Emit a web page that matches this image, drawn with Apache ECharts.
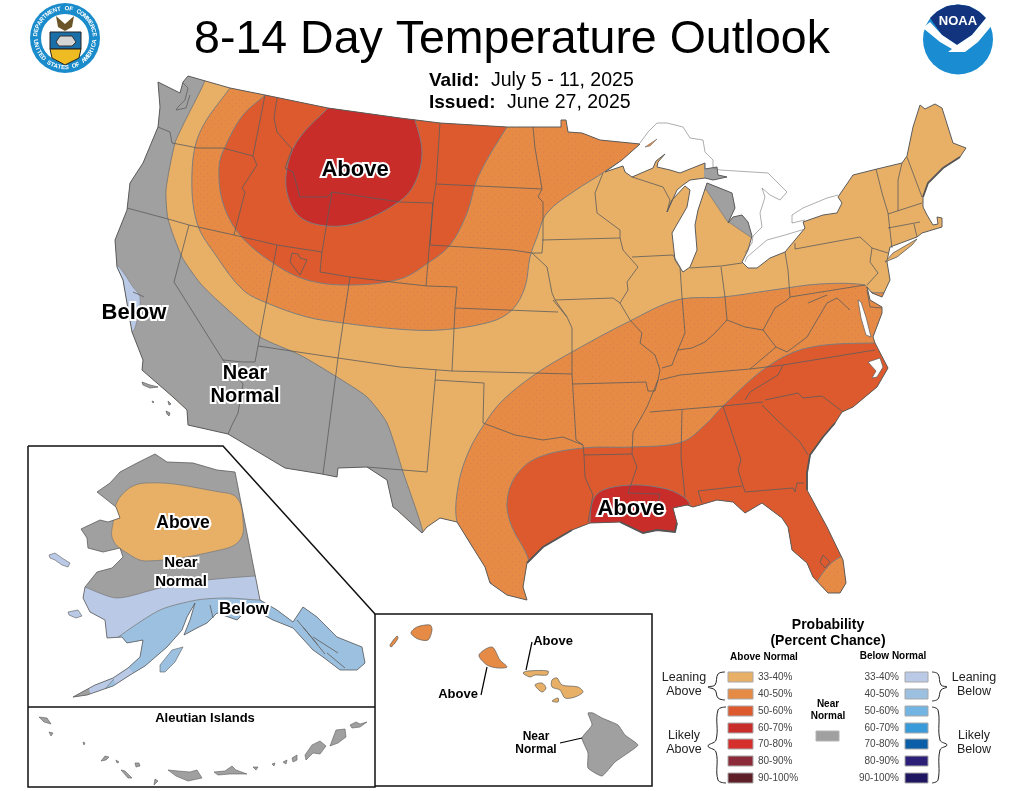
<!DOCTYPE html>
<html>
<head>
<meta charset="utf-8">
<script src="https://cdn.jsdelivr.net/npm/echarts@6/dist/echarts.min.js"></script>
<style>html,body{margin:0;background:#fff}#map{width:1024px;height:791px}</style>
</head>
<body>
<div id="map"></div>
<script>
var conusOutline = [[188,76],[230,88],[265,95],[328,108],[400,118],[440,123],[507,127],[561,127],[561,120],[566,120],[568,132],[582,133],[600,140],[620,142],[640,144],[622,160],[605,172],[623,166],[625,172],[632,177],[653,168],[656,161],[665,154],[658,162],[657,167],[670,170],[680,173],[700,165],[705,163],[705,169],[717,167],[718,175],[727,177],[713,180],[705,178],[690,180],[683,185],[677,190],[667,212],[672,200],[685,186],[690,190],[687,207],[672,233],[675,260],[683,272],[690,267],[697,250],[695,225],[698,210],[703,195],[707,183],[732,193],[735,208],[728,223],[733,217],[742,215],[748,222],[752,236],[748,250],[742,262],[748,268],[757,268],[770,258],[785,252],[805,228],[803,222],[823,215],[837,213],[842,203],[838,197],[853,175],[877,169],[902,163],[907,156],[913,127],[920,105],[925,109],[935,104],[942,108],[953,143],[966,148],[960,157],[943,168],[928,183],[923,197],[923,207],[927,215],[933,225],[938,224],[937,217],[942,218],[942,227],[922,233],[917,237],[890,247],[888,256],[887,262],[890,280],[882,297],[872,293],[867,287],[870,300],[882,307],[882,313],[873,337],[875,343],[888,368],[877,387],[853,407],[842,412],[835,423],[823,437],[810,455],[807,473],[807,490],[827,527],[843,560],[846,583],[840,593],[828,593],[813,577],[807,563],[792,550],[788,527],[782,518],[762,503],[745,513],[733,502],[717,500],[693,507],[687,505],[673,508],[677,523],[675,532],[657,530],[643,533],[620,522],[590,523],[572,530],[543,547],[527,563],[523,587],[527,600],[507,595],[490,583],[485,567],[470,543],[457,522],[440,518],[427,527],[422,533],[397,510],[393,507],[387,480],[367,467],[338,468],[337,477],[322,474],[285,468],[228,434],[188,425],[187,410],[173,397],[142,370],[143,360],[132,332],[123,280],[117,267],[115,240],[127,210],[130,183],[143,163],[158,127],[160,107],[158,82],[180,93],[183,82]];
var longIsland = [[885,262],[893,253],[917,239],[912,245],[897,257]];
var chesapeake = [[858,300],[861,302],[866,317],[871,337],[866,335],[861,318]];
var pamlico = [[868,362],[880,358],[883,367],[877,377],[872,378],[876,371]];
var channelIslands = [
  [[142,382],[150,385],[158,387],[150,388],[143,385]],
  [[152,401],[154,402],[153,403]],
  [[168,401],[171,404],[169,405]],
  [[166,411],[170,413],[169,416],[167,414]]
];
var grayWest = [[100,60],[205,60],[205,80],[187,117],[175,143],[166,190],[168,219],[182,257],[200,283],[217,300],[260,337],[300,355],[337,377],[367,397],[387,423],[403,472],[423,532],[423,560],[100,560]];
var blueCoast = [[105,262],[118,266],[133,287],[140,297],[138,315],[132,332],[110,330]];
var grayUpperMI = [[704,160],[735,160],[735,190],[704,190]];
var grayLowerMI = [[705,188],[727,221],[752,238],[765,232],[765,180],[705,180]];
var zone40North = [[255,55],[230,88],[200,132],[192,173],[197,223],[217,257],[243,290],[267,303],[307,317],[343,323],[397,329],[440,330],[490,322],[512,310],[525,287],[530,257],[537,237],[547,213],[573,192],[607,170],[645,140],[645,100]];
var zone50North = [[288,70],[265,95],[243,115],[225,147],[219,167],[223,203],[240,235],[273,263],[307,280],[350,285],[400,279],[428,263],[450,245],[467,213],[478,177],[507,127],[530,95]];
var zone60North = [[350,85],[328,108],[300,137],[288,163],[287,193],[300,217],[327,226],[360,222],[400,201],[415,183],[422,153],[415,120],[405,95]];
var zone40South = [[940,300],[870,292],[865,285],[820,284],[773,290],[723,297],[677,300],[628,322],[572,352],[537,373],[503,400],[485,423],[468,453],[458,487],[457,522],[470,543],[488,580],[512,600],[530,625],[940,625]];
var zone50South = [[940,345],[873,343],[807,348],[767,367],[723,406],[707,423],[682,442],[633,447],[583,448],[537,458],[515,477],[507,503],[512,527],[528,558],[540,615],[805,615],[818,580],[843,556],[940,540]];
var zone60South = [[590,550],[590,522],[593,500],[603,490],[630,485],[657,487],[677,493],[690,505],[695,560]];
var stateLines = [
  [[158,127],[170,132],[172,143],[188,146],[197,148],[223,148],[253,156]],
  [[265,95],[253,156],[257,165],[242,188],[245,192],[234,235]],
  [[127,208],[168,219],[189,225],[234,235],[277,245],[322,252],[320,272],[350,277],[400,283],[427,286],[457,287],[455,308],[452,371]],
  [[277,98],[274,118],[277,132],[292,149],[285,168],[293,172],[300,197],[327,197],[332,192],[322,252]],
  [[332,192],[400,202],[433,203],[426,286]],
  [[189,225],[174,282],[223,360],[243,384],[238,413],[232,425],[228,434]],
  [[223,360],[243,362],[255,362],[258,346],[277,245]],
  [[258,346],[338,358],[400,367],[452,371],[572,374]],
  [[350,277],[338,358],[323,474]],
  [[436,370],[427,472],[367,467]],
  [[435,380],[484,383],[483,423],[515,435],[543,440],[563,437],[583,445],[584,455],[585,477],[593,495],[588,522]],
  [[572,328],[572,374],[576,440],[583,445]],
  [[455,308],[558,312]],
  [[553,300],[567,317],[572,328]],
  [[573,384],[646,382],[648,391],[655,391],[658,380]],
  [[584,455],[632,454]],
  [[620,303],[630,320],[642,333],[640,343],[655,355],[660,370],[658,380],[647,407],[633,432],[632,454],[637,467],[628,493],[660,494],[658,503]],
  [[650,412],[723,406],[763,402]],
  [[660,380],[680,375],[750,369],[783,365],[875,350]],
  [[783,365],[778,375],[750,392],[745,400]],
  [[765,400],[798,393],[803,398],[822,396],[843,412]],
  [[762,405],[777,420],[800,442],[808,455]],
  [[682,410],[681,457],[685,497]],
  [[723,406],[741,460],[738,470],[745,492],[793,488],[795,492],[797,483],[804,483]],
  [[698,491],[742,486]],[[698,491],[702,503]],
  [[662,368],[672,365],[677,352],[685,333],[682,297],[680,267],[673,255]],
  [[678,350],[692,348],[705,342],[715,333],[727,320],[745,327],[763,330],[776,347],[750,369]],
  [[776,347],[787,352],[807,337],[817,320],[827,303],[837,298],[850,310]],
  [[763,330],[775,308],[787,300],[790,297],[788,270],[785,252]],
  [[721,267],[725,297],[727,320]],
  [[690,268],[721,266],[742,263]],
  [[790,297],[865,285]],
  [[808,303],[827,295]],
  [[795,243],[795,249],[860,237],[872,248],[888,253]],
  [[872,248],[870,262],[878,273],[867,285]],
  [[867,290],[870,307],[882,308]],
  [[876,169],[882,193],[888,213],[892,248]],
  [[902,163],[898,180],[898,211]],
  [[888,214],[922,203]],
  [[888,228],[920,222]],
  [[914,224],[917,237]],
  [[907,157],[922,197]],
  [[533,127],[535,148],[540,177],[542,189],[538,197],[543,202],[543,240],[542,253],[532,253],[512,250],[430,245]],
  [[440,123],[436,184],[433,203],[430,245]],
  [[436,184],[542,189]],
  [[532,253],[547,267],[552,293],[555,300],[567,317]],
  [[542,240],[620,238],[623,250],[638,267],[627,282],[628,290],[620,303],[613,298],[555,300]],
  [[603,173],[595,193],[597,213],[620,230],[620,238]],
  [[632,257],[673,255]],
  [[632,177],[663,187],[670,200],[667,212]],
  [[292,253],[290,262],[300,275],[307,260],[300,258],[298,254],[292,253]],
  [[823,555],[820,562],[825,568],[830,562],[823,555]]
];
var canadaLines = [
  [[640,143],[648,132],[657,123],[667,123],[683,127],[690,138],[703,140],[705,152],[713,160],[713,168],[720,170],[768,173],[787,192],[780,200],[770,195],[762,188],[765,197],[760,213],[762,227],[753,236],[752,243],[745,253]],
  [[745,262],[747,257],[767,240],[785,235],[805,229]],
  [[805,220],[792,223],[792,215],[803,208],[827,198],[838,195]]
];
// rough stretches of coast that read as heavy dark lines
var heavyCoast = [
  [[960,157],[943,168],[928,183],[923,197]],
  [[835,423],[823,437],[810,455],[807,473],[807,490]],
  [[620,522],[643,533],[657,530],[675,532],[677,523]],
  [[572,530],[543,547],[527,563]]
];
var fineCoast = [
  [[183,83],[188,88],[185,100],[178,107],[176,110],[186,108],[190,95]],
  [[133,292],[140,295],[144,297]],
  [[297,620],[318,645]],[[303,627],[325,654]],[[313,637],[338,653]],[[327,653],[345,668]],[[210,605],[213,618]]
];
var isleRoyale = [[645,147],[657,139],[650,146]];
var akOutline = [[235,472],[217,470],[193,463],[167,462],[155,454],[137,463],[120,472],[110,483],[97,492],[116,507],[120,518],[108,522],[100,520],[81,529],[87,538],[88,548],[103,552],[120,548],[123,557],[112,568],[97,572],[85,587],[83,598],[90,612],[105,620],[107,638],[122,637],[127,643],[143,640],[140,657],[128,668],[113,678],[95,685],[73,697],[87,695],[113,686],[130,675],[145,666],[167,647],[182,630],[187,617],[195,603],[190,620],[184,635],[197,628],[207,623],[217,613],[237,620],[247,610],[260,613],[273,620],[293,628],[313,650],[323,657],[340,670],[357,670],[365,663],[362,647],[337,637],[317,617],[303,607],[293,622],[277,610],[260,600]];
var akAbove = [[145,483],[220,492],[237,498],[243,520],[240,540],[220,550],[147,561],[127,553],[113,540],[113,523],[120,497]];
var akBelow33 = [[70,580],[85,587],[117,598],[160,588],[207,580],[255,576],[280,575],[380,700],[70,700]];
var akBelow40 = [[105,650],[117,638],[160,610],[197,600],[227,598],[260,600],[380,600],[380,700],[100,700],[113,680],[128,668]];
var akLightTip = [[113,677],[128,667],[134,674],[116,686]];
var akGrayTip = [[60,690],[88,685],[92,700],[60,705]];
var akIslands = [
  [[49,555],[55,553],[62,558],[70,563],[68,567],[62,565],[55,560],[50,558]],
  [[68,612],[78,610],[82,616],[76,618],[69,615]],
  [[160,665],[172,650],[183,647],[175,662],[165,672],[160,672]]
];
var aleutians = [
  [[39,717],[47,718],[51,724],[44,722]],[[49,732],[53,733],[51,736]],[[83,742],[85,743],[84,745]],
  [[101,761],[105,756],[109,757],[106,760]],[[116,760],[119,762],[117,763]],[[121,770],[125,771],[132,778],[128,778]],
  [[135,763],[139,763],[140,766],[136,767]],[[168,770],[178,771],[190,772],[197,770],[202,778],[188,781],[176,776]],
  [[214,772],[225,771],[232,766],[236,770],[247,774],[230,774],[218,775]],[[253,767],[258,767],[256,770]],
  [[272,764],[275,763],[274,766]],[[283,762],[287,760],[286,764]],[[292,758],[297,755],[297,760],[293,762]],
  [[305,755],[312,745],[320,741],[326,746],[320,754],[313,753],[306,760]],[[330,746],[336,730],[345,729],[346,737],[338,743]],
  [[350,725],[356,722],[360,724],[367,722],[360,727],[352,728]],[[155,779],[158,781],[154,785]]
];
var hiNiihau = [[390,645],[397,636],[398,638],[395,643],[391,647]];
var hiKauai = [[411,633],[417,627],[430,625],[432,630],[428,640],[418,639]];
var hiOahu = [[479,655],[492,647],[500,660],[507,667],[498,668],[487,665]];
var hiMolokai = [[523,673],[528,671],[548,671],[547,675],[535,675],[530,677]];
var hiLanai = [[535,685],[542,683],[546,688],[542,692]];
var hiMaui = [[552,680],[557,678],[562,685],[578,687],[583,692],[575,697],[565,698],[560,690],[552,687]];
var hiKahoolawe = [[552,701],[558,698],[558,702]];
var hiBig = [[588,713],[593,713],[602,718],[618,725],[625,735],[638,745],[628,753],[615,762],[602,776],[588,768],[588,753],[582,738],[592,725]];
var leaders = [[[487,667],[481,695]],[[532,642],[526,670]],[[560,743],[582,738]]];
var frameLines = [[[28,707],[375,707]],[[28,446],[223,446],[375,614],[652,614],[652,786],[375,786]],[[28,446],[28,787],[375,787],[375,614]]];
var braces = [
  [[725,672],[718,674],[715,685],[708,687],[715,690],[718,698],[725,700]],
  [[726,707],[718,710],[716,740],[708,746],[716,752],[718,780],[726,783]],
  [[932,672],[938,674],[941,685],[947,687],[941,690],[938,699],[932,701]],
  [[932,707],[938,710],[940,740],[947,745],[940,750],[938,780],[932,783]]
];

var aboveColors = ['#e8b066','#e58b45','#dd5a2e','#c92d2a','#d42f2b','#8b2a38','#5e1f26'];
var belowColors = ['#b9c9e6','#9cc0e0','#72b4e2','#3a9bdb','#0b5ea8','#2b1f78','#1e1660'];
var grayNear = '#a0a0a0';
var percentLabels = ['33-40%','40-50%','50-60%','60-70%','70-80%','80-90%','90-100%'];
var legendRowY = [672,689,706,723,739,756,773];

var sans = '"Liberation Sans", Arial, sans-serif';
var mapLabels = [['Above',355,170,22],['Below',134,313,22],['Near',245,373,20],['Normal',245,396,20],['Above',631,509,22],
  ['Above',183,523,17.5],['Near',181,563,15],['Normal',181,582,15],['Below',244,609,17]];
var boldLabels = [['Aleutian Islands',205,718,13],['Above',553,641,13],['Above',458,694,13],['Near',536,737,12],['Normal',536,750,12],
  ['Probability',828,625,14],['(Percent Chance)',828,641,14],['Above Normal',764,657,10],['Below Normal',893,656,10],['Near',828,704,10],['Normal',828,716,10]];
var plainLabels = [['Leaning',684,678],['Above',684,692],['Likely',684,736],['Above',684,750],['Leaning',974,678],['Below',974,692],['Likely',974,736],['Below',974,750]];
var sealTop = 'DEPARTMENT OF COMMERCE';
var sealBottom = 'UNITED STATES OF AMERICA';

function stipple(color) {
  var c = document.createElement('canvas');
  c.width = 7; c.height = 7;
  var g = c.getContext('2d');
  g.fillStyle = color;
  g.fillRect(0, 0, 7, 7);
  g.fillStyle = 'rgba(214,90,90,0.35)';
  g.fillRect(1, 1, 1, 1);
  g.fillRect(4, 5, 1, 1);
  return {image: c, repeat: 'repeat'};
}
var fill40 = stipple(aboveColors[1]);
var edge = '#7d7d7d', line = '#5c5c5c';

// draw order is array order
var shapes = [];
function add(pts, fill, stroke, width, smooth, clip) {
  shapes.push({pts: pts, fill: fill, stroke: stroke, width: width, smooth: smooth, clip: clip});
}
function addLine(pts, stroke, width, smooth) {
  shapes.push({pts: pts, line: true, stroke: stroke, width: width, smooth: smooth});
}
add(conusOutline, aboveColors[0]);
add(zone40North, fill40, edge, 1, 0.35, conusOutline);
add(zone40South, fill40, edge, 1, 0.35, conusOutline);
add(zone50North, aboveColors[2], edge, 1, 0.35, conusOutline);
add(zone50South, aboveColors[2], edge, 1, 0.35, conusOutline);
add(zone60North, aboveColors[3], edge, 1, 0.35, conusOutline);
add(zone60South, aboveColors[3], edge, 1, 0.35, conusOutline);
add(grayWest, grayNear, edge, 1, 0.2, conusOutline);
add(blueCoast, belowColors[0], edge, 0.6, 0.3, conusOutline);
add(grayUpperMI, grayNear, null, 0, 0, conusOutline);
add(grayLowerMI, grayNear, edge, 0.8, 0, conusOutline);
add(chesapeake, '#fff', line, 0.7);
add(pamlico, '#fff', line, 0.7);
add(conusOutline, 'none', line, 1);
add(longIsland, aboveColors[0], line, 0.8);
add(isleRoyale, aboveColors[1], line, 0.5);
channelIslands.forEach(function (p) { add(p, grayNear, line, 0.7); });
stateLines.forEach(function (l) { addLine(l, line, 0.8); });
heavyCoast.forEach(function (l) { addLine(l, '#555', 1.8); });
canadaLines.forEach(function (l) { addLine(l, '#777', 0.6); });
add(akOutline, grayNear);
add(akAbove, aboveColors[0], edge, 0.8, 0.4, akOutline);
add(akBelow33, belowColors[0], edge, 0.8, 0.25, akOutline);
add(akBelow40, belowColors[1], edge, 0.8, 0.25, akOutline);
add(akLightTip, belowColors[0], null, 0, 0, akOutline);
add(akGrayTip, grayNear, null, 0, 0, akOutline);
add(akOutline, 'none', line, 0.8);
fineCoast.forEach(function (l) { addLine(l, '#666', 0.9); });
add(akIslands[0], belowColors[0], line, 0.6);
add(akIslands[1], belowColors[0], line, 0.6);
add(akIslands[2], belowColors[1], line, 0.6);
aleutians.forEach(function (p) { add(p, grayNear, line, 0.6); });
[hiNiihau, hiKauai, hiOahu].forEach(function (p) { add(p, aboveColors[1], line, 0.7, 0.3); });
[hiMolokai, hiLanai, hiMaui, hiKahoolawe].forEach(function (p) { add(p, aboveColors[0], line, 0.7, 0.3); });
add(hiBig, grayNear, line, 0.7, 0.15);
leaders.forEach(function (l) { addLine(l, '#000', 1.2); });
frameLines.forEach(function (l) { addLine(l, '#111', 1.5); });
braces.forEach(function (l) { addLine(l, '#222', 1, 0.4); });

function renderShape(params, api) {
  var s = shapes[api.value(0)];
  var el = {
    type: s.line ? 'polyline' : 'polygon',
    shape: {points: s.pts.map(function (p) { return api.coord(p); }), smooth: s.smooth || 0},
    style: {fill: s.line ? null : s.fill, stroke: s.stroke || null, lineWidth: s.width || 0}
  };
  if (s.clip) {
    el.clipPath = {type: 'polygon', shape: {points: s.clip.map(function (p) { return api.coord(p); })}};
  }
  return el;
}

function swatchSeries(colors, x, w) {
  return {
    type: 'custom', coordinateSystem: 'cartesian2d', silent: true, animation: false, clip: false,
    data: legendRowY.map(function (y, i) { return [x, y, i]; }),
    renderItem: function (params, api) {
      var p = api.coord([api.value(0), api.value(1)]);
      return {type: 'rect', shape: {x: p[0], y: p[1], width: w, height: 10},
        style: {fill: colors[api.value(2)], stroke: '#a8a8a8', lineWidth: 1}};
    }
  };
}

function textSeries(rows, opts) {
  return {
    type: 'custom', coordinateSystem: 'cartesian2d', silent: true, animation: false, clip: false, z: 5,
    data: rows.map(function (r, i) { return [r[1], r[2], i]; }),
    renderItem: function (params, api) {
      var r = rows[api.value(2)];
      var p = api.coord([r[1], r[2]]);
      return {type: 'text', style: {
        text: r[0], x: p[0], y: p[1], textAlign: opts.align || 'center', textVerticalAlign: 'middle',
        font: (opts.weight || 'normal') + ' ' + (r[3] || opts.size) + 'px ' + sans,
        fill: opts.color || '#000', stroke: opts.halo ? '#fff' : null, lineWidth: opts.halo ? 4 : 0
      }};
    }
  };
}

// letters of the seal ring, one text element each
function ringText(str, spread, bottom) {
  return str.split('').map(function (ch, i) {
    var a = -spread + 2 * spread * i / (str.length - 1);
    return {
      type: 'text',
      x: 65 + 29.5 * Math.sin(a),
      y: bottom ? 38 + 29.5 * Math.cos(a) : 38 - 29.5 * Math.cos(a),
      rotation: bottom ? a : -a,
      style: {text: ch, textAlign: 'center', textVerticalAlign: 'middle', font: 'bold 6px ' + sans, fill: '#fff'}
    };
  });
}

var logos = [
  // Department of Commerce seal
  {type: 'circle', shape: {cx: 65, cy: 38, r: 35}, style: {fill: '#1b8ccb'}},
  {type: 'circle', shape: {cx: 65, cy: 38, r: 24}, style: {fill: '#fff'}},
  {type: 'polygon', shape: {points: [[50,32],[81,32],[81,49],[50,49]]}, style: {fill: '#1a6fa8', stroke: '#222'}},
  {type: 'polygon', shape: {points: [[50,49],[81,49],[79,58],[65,65],[52,58]]}, style: {fill: '#eebb22', stroke: '#222'}},
  {type: 'polygon', shape: {points: [[56,16],[65,24],[74,16],[72,27],[65,31],[58,27]]}, style: {fill: '#6b5528'}},
  {type: 'polygon', shape: {points: [[56,42],[60,36],[72,36],[76,42],[72,46],[59,46]]}, style: {fill: '#d5d5d5', stroke: '#333'}},
  // NOAA logo
  {type: 'circle', shape: {cx: 958, cy: 39.5, r: 35}, style: {fill: '#1a8dd2'}},
  {type: 'polygon', shape: {points: [[930,18],[937,11.5],[947,6],[958,4.5],[969,6],[979,11.5],[986,18],[972,35],[957,45],[942,35]]}, style: {fill: '#12347e'}},
  {type: 'polygon', shape: {points: [[923,28],[940,42],[952,49],[948,52],[965,52],[978,42],[993,24],[986,18],[972,35],[957,45],[942,35],[930,22]]}, style: {fill: '#fff'}},
  {type: 'text', style: {text: 'NOAA', x: 958, y: 21, textAlign: 'center', textVerticalAlign: 'middle', font: 'bold 13px ' + sans, fill: '#fff'}}
].concat(ringText(sealTop, 1.45, false), ringText(sealBottom, 1.45, true));

var chart = echarts.init(document.getElementById('map'));
chart.setOption({
  animation: false,
  backgroundColor: '#fff',
  title: {
    text: '8-14 Day Temperature Outlook', left: 507, top: 12, textAlign: 'center',
    textStyle: {fontFamily: sans, fontSize: 46.5, fontWeight: 'normal', color: '#000'}
  },
  grid: {left: 0, right: 0, top: 0, bottom: 0},
  xAxis: {type: 'value', min: 0, max: 1024, show: false},
  yAxis: {type: 'value', min: 0, max: 791, inverse: true, show: false},
  series: [
    {
      type: 'custom', coordinateSystem: 'cartesian2d', silent: true, animation: false, clip: false,
      data: shapes.map(function (s, i) { return [i]; }),
      encode: {x: -1, y: -1},
      renderItem: renderShape
    },
    swatchSeries(aboveColors, 728, 25),
    swatchSeries(belowColors, 905, 23),
    {
      type: 'custom', coordinateSystem: 'cartesian2d', silent: true, animation: false, clip: false,
      data: [[816, 731]],
      renderItem: function (params, api) {
        var p = api.coord([api.value(0), api.value(1)]);
        return {type: 'rect', shape: {x: p[0], y: p[1], width: 23, height: 10}, style: {fill: grayNear, stroke: '#b4b4b4', lineWidth: 1}};
      }
    },
    textSeries(mapLabels, {weight: 'bold', halo: true}),
    textSeries(boldLabels, {weight: 'bold', size: 13}),
    textSeries(plainLabels, {size: 12.5, color: '#222'}),
    textSeries(percentLabels.map(function (t, i) { return [t, 758, legendRowY[i] + 5]; }), {size: 10, align: 'left', color: '#444'}),
    textSeries(percentLabels.map(function (t, i) { return [t, 899, legendRowY[i] + 5]; }), {size: 10, align: 'right', color: '#444'}),
    textSeries([['Valid:', 429, 81], ['Issued:', 429, 103]], {weight: 'bold', size: 19, align: 'left'}),
    textSeries([['July 5 - 11, 2025', 491, 81], ['June 27, 2025', 507, 103]], {size: 19.5, align: 'left'})
  ],
  graphic: logos
});
</script>
</body>
</html>
